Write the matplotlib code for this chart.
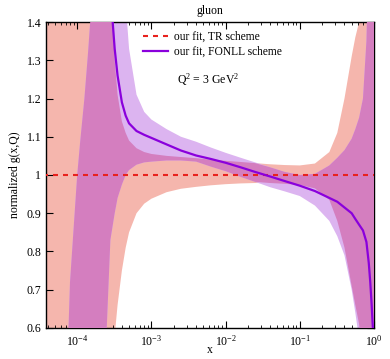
import matplotlib
matplotlib.use("Agg")
import matplotlib.pyplot as plt
import numpy as np
from matplotlib.ticker import FuncFormatter, LogLocator, LogFormatterMathtext, NullFormatter

plt.rcParams['font.family'] = ['Liberation Serif', 'DejaVu Serif']
plt.rcParams['mathtext.fontset'] = 'custom'
plt.rcParams['mathtext.rm'] = 'Liberation Serif'
plt.rcParams['mathtext.it'] = 'Liberation Serif:italic'
plt.rcParams['mathtext.bf'] = 'Liberation Serif:bold'

# ---------------- data ----------------
x = [3.5e-5, 6e-5, 8e-5, 1e-4, 1.1e-4, 1.25e-4, 1.4e-4, 1.6e-4, 1.8e-4, 2e-4,
     2.2e-4, 2.5e-4, 2.8e-4, 3.2e-4, 3.5e-4, 4e-4, 4.5e-4, 5e-4, 6.3e-4, 8e-4,
     1e-3, 1.6e-3, 2.5e-3, 4e-3, 6.3e-3, 1e-2, 1.6e-2, 2.5e-2, 4e-2, 6.3e-2,
     0.1, 0.16, 0.25, 0.32, 0.4, 0.5, 0.56, 0.63, 0.71, 0.79,
     0.85, 0.89, 0.93, 0.977, 1.0]

tr_central = [1.0] * 45

tr_hi = [1.8, 1.8, 1.8, 1.8, 1.8, 1.8, 1.8, 1.8, 1.8, 1.8,
         1.8, 1.8, 1.55, 1.30, 1.21, 1.14, 1.11, 1.09, 1.07, 1.06,
         1.055, 1.05, 1.047, 1.044, 1.04, 1.037, 1.034, 1.031, 1.028, 1.026,
         1.025, 1.03, 1.06, 1.11, 1.20, 1.31, 1.36, 1.40, 1.50, 1.8,
         1.8, 1.8, 1.8, 1.8, 1.8]

tr_lo = [0.2, 0.2, 0.2, 0.2, 0.2, 0.2, 0.2, 0.2, 0.2, 0.2,
         0.2, 0.2, 0.40, 0.58, 0.66, 0.75, 0.81, 0.85, 0.90, 0.925,
         0.938, 0.955, 0.964, 0.969, 0.973, 0.976, 0.978, 0.979, 0.979, 0.977,
         0.974, 0.965, 0.935, 0.88, 0.81, 0.71, 0.66, 0.61, 0.50, 0.2,
         0.2, 0.2, 0.2, 0.2, 0.2]

fonll_central = [3.0, 3.0, 3.0, 3.0, 3.0, 2.9, 2.8, 2.7, 2.6, 2.3,
                 2.0, 1.70, 1.48, 1.33, 1.26, 1.19, 1.155, 1.135, 1.115, 1.105,
                 1.097, 1.08, 1.064, 1.051, 1.042, 1.032, 1.02, 1.008, 0.996, 0.984,
                 0.972, 0.958, 0.94, 0.93, 0.915, 0.90, 0.885, 0.87, 0.855, 0.825,
                 0.77, 0.72, 0.66, 0.58, 0.50]

fonll_hi = [0.0, 0.0, 0.72, 1.0, 1.09, 1.20, 1.32, 1.48, 1.8, 1.8,
            1.8, 1.8, 1.8, 1.8, 1.8, 1.8, 1.45, 1.33, 1.21, 1.165,
            1.145, 1.12, 1.10, 1.087, 1.072, 1.058, 1.045, 1.033, 1.02, 1.008,
            1.0, 1.003, 1.025, 1.045, 1.065, 1.095, 1.12, 1.15, 1.20, 1.35,
            1.6, 1.8, 1.8, 1.8, 1.8]

fonll_lo = [0.2, 0.2, 0.2, 0.2, 0.2, 0.2, 0.2, 0.2, 0.2, 0.25,
            0.40, 0.60, 0.83, 0.90, 0.94, 0.975, 1.0, 1.013, 1.027, 1.033,
            1.035, 1.038, 1.038, 1.035, 1.022, 1.01, 0.995, 0.982, 0.968, 0.957,
            0.945, 0.92, 0.88, 0.84, 0.79, 0.70, 0.64, 0.57, 0.45, 0.2,
            0.2, 0.2, 0.2, 0.2, 0.2]

x_ticks = [1e-4, 1e-3, 1e-2, 1e-1, 1e0]
y_ticks = [0.6, 0.7, 0.8, 0.9, 1.0, 1.1, 1.2, 1.3, 1.4]

# ---------------- colours ----------------
c_tr_band = '#f5b6ad'
c_fonll_band = '#dcb4f0'
c_overlap = '#d47ebf'
c_tr_line = '#e8221e'
c_fonll_line = '#8a00dc'

fig = plt.figure(figsize=(3.9, 3.59), dpi=100)
ax = fig.add_axes([0.118, 0.0864, 0.841, 0.8523])

xa = np.array(x)
trl, trh = np.array(tr_lo), np.array(tr_hi)
fl, fh = np.array(fonll_lo), np.array(fonll_hi)

ax.fill_between(xa, trl, trh, color=c_tr_band, lw=0, zorder=1)
ax.fill_between(xa, fl, fh, where=fh > fl, interpolate=True,
                color=c_fonll_band, lw=0, zorder=2)
olo = np.maximum(trl, fl)
ohi = np.minimum(trh, fh)
ax.fill_between(xa, olo, ohi, where=ohi > olo, interpolate=True,
                color=c_overlap, lw=0, zorder=3)

ax.plot(xa, tr_central, color=c_tr_line, lw=1.5, dashes=(2.4, 2.4),
        label='our fit, TR scheme', zorder=4)
ax.plot(xa, fonll_central, color=c_fonll_line, lw=1.6,
        label='our fit, FONLL scheme', zorder=5)

ax.set_xscale('log')
ax.set_xlim(3.8e-5, 1.0)
ax.set_ylim(0.6, 1.4)

ax.set_xticks(x_ticks)
ax.xaxis.set_major_formatter(LogFormatterMathtext())
ax.xaxis.set_minor_locator(LogLocator(base=10, subs=np.arange(2, 10)))
ax.xaxis.set_minor_formatter(NullFormatter())
ax.set_yticks(y_ticks)
ax.yaxis.set_major_formatter(FuncFormatter(lambda v, p: '%g' % round(v, 2)))

ax.tick_params(which='both', direction='in', top=True, right=True, labelsize=8.5)
ax.tick_params(which='major', length=5, width=0.8)
ax.tick_params(which='minor', length=2.5, width=0.6)
ax.tick_params(axis='x', which='major', pad=4)
for s in ax.spines.values():
    s.set_linewidth(1.0)

ax.set_title('gluon', fontsize=8.5, pad=6)
ax.set_xlabel('x', fontsize=8.5, labelpad=-3)
ax.set_ylabel('normalized g(x,Q)', fontsize=8.5, labelpad=4)

ax.text(2.2e-3, 1.248, r'Q$^{\rm 2}$ = 3 GeV$^{\rm 2}$', fontsize=8.5,
        va='center', ha='left', zorder=6)

ax.legend(loc='upper left', bbox_to_anchor=(0.296, 0.972), frameon=False,
          fontsize=8.3, handlelength=2.2, handletextpad=0.5,
          labelspacing=0.3, borderpad=0, borderaxespad=0)

fig.savefig('out.png', dpi=100)
